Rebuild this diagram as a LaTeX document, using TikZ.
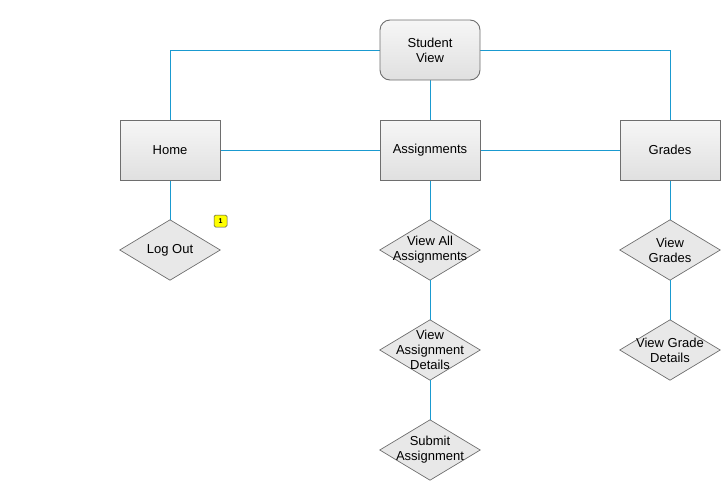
\documentclass[tikz,border=0pt]{standalone}
\usepackage{fontspec}
\setmainfont{Liberation Sans}
\usetikzlibrary{backgrounds}
\definecolor{linkblue}{HTML}{1A9AD0}
\definecolor{edgegrey}{HTML}{6E6E6E}
\definecolor{topgrey}{HTML}{F6F6F6}
\definecolor{botgrey}{HTML}{E0E0E0}
\definecolor{diagrey}{HTML}{E8E8E8}
\definecolor{noteyellow}{HTML}{FFFF00}
\tikzset{
  boxnode/.style={draw=edgegrey, line width=0.9pt, top color=topgrey, bottom color=botgrey,
    minimum width=100pt, minimum height=60pt, inner sep=0pt, align=center,
    font=\fontsize{13}{15}\selectfont},
  rootnode/.style={boxnode, rounded corners=10pt},
  dianode/.style={minimum width=100pt, minimum height=60pt, inner sep=0pt, align=center,
    font=\fontsize{13}{15}\selectfont},
  diashape/.style={draw=edgegrey, line width=0.7pt, fill=diagrey},
  link/.style={draw=linkblue, line width=0.9pt},
  notebadge/.style={draw=black!70, line width=0.5pt, fill=noteyellow, rounded corners=1.5pt,
    minimum width=13pt, minimum height=12pt, inner sep=0pt, font=\fontsize{7}{7}\selectfont\bfseries}
}
\begin{document}
\begin{tikzpicture}[x=1pt,y=-1pt]
\useasboundingbox (0,0) rectangle (728,488);
\node[rootnode] (root) at (430,50) {Student\\View};
\node[boxnode] (home) at (170,150) {Home};
\node[boxnode] (assign) at (430,150) {Assignments};
\node[boxnode] (grades) at (670,150) {Grades};
\node[dianode] (logout) at (170,250) {Log Out};
\node[dianode] (viewall) at (430,250) {View All\\Assignments};
\node[dianode] (viewdet) at (430,350) {View\\Assignment\\Details};
\node[dianode] (submit) at (430,450) {Submit\\Assignment};
\node[dianode] (viewgr) at (670,250) {View\\Grades};
\node[dianode] (viewgrdet) at (670,350) {View Grade\\Details};
\node[notebadge] (note) at (220.5,221) {1};
\begin{scope}[on background layer]
  \foreach \d in {logout,viewall,viewdet,submit,viewgr,viewgrdet}{
    \draw[diashape] (\d.north) -- (\d.east) -- (\d.south) -- (\d.west) -- cycle;
  }
  \draw[link] (root.west) -| (home.north);
  \draw[link] (root.east) -| (grades.north);
  \draw[link] (root.south) -- (assign.north);
  \draw[link] (home.east) -- (assign.west);
  \draw[link] (assign.east) -- (grades.west);
  \draw[link] (home.south) -- (logout.north);
  \draw[link] (assign.south) -- (viewall.north);
  \draw[link] (viewall.south) -- (viewdet.north);
  \draw[link] (viewdet.south) -- (submit.north);
  \draw[link] (grades.south) -- (viewgr.north);
  \draw[link] (viewgr.south) -- (viewgrdet.north);
\end{scope}
\end{tikzpicture}
\end{document}
